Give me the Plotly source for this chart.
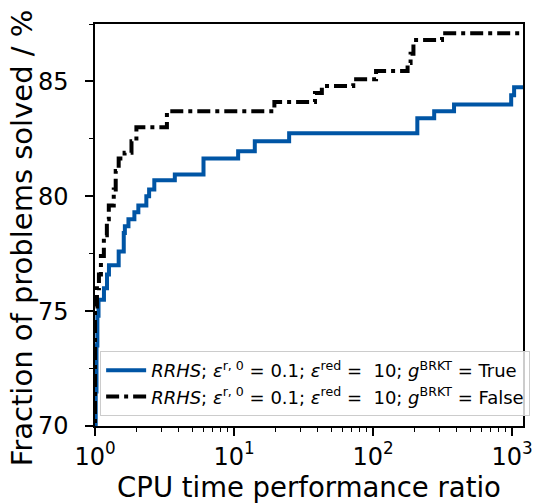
import plotly.graph_objects as go

# Performance profile data (CPU time ratio, % solved), step-post
ratio_true = [1.0, 1.0, 1.012, 1.025, 1.04, 1.06, 1.16, 1.22, 1.26, 1.48, 1.61, 1.64, 1.74, 1.92,
              2.05, 2.34, 2.45, 2.67, 3.75, 6.03, 10.7, 14.1, 24.9, 208, 275, 382, 984, 1033, 1200]
solved_true = [0, 68.5, 71.5, 73.5, 74.8, 75.5, 76.0, 76.6, 77.0, 77.6, 78.4, 78.7, 79.0, 79.3,
               79.6, 80.0, 80.3, 80.7, 80.95, 81.65, 81.96, 82.4, 82.74, 83.4, 83.7, 84.0, 84.4, 84.75, 84.75]

ratio_false = [1.0, 1.0, 1.033, 1.067, 1.103, 1.158, 1.217, 1.257, 1.364, 1.409, 1.48, 1.632, 1.83,
               1.985, 3.29, 19.5, 38.2, 42.8, 72, 105, 177, 186, 195, 313, 1200]
solved_false = [0, 75.2, 76.0, 76.6, 77.4, 78.3, 79.0, 79.6, 80.3, 81.1, 81.65, 81.9, 82.4,
                83.0, 83.7, 84.1, 84.5, 84.8, 85.1, 85.45, 85.8, 86.2, 86.8, 87.1, 87.1]

x_tickvals = [1, 10, 100, 1000]
x_ticktext = ["10<sup>0</sup>", "10<sup>1</sup>", "10<sup>2</sup>", "10<sup>3</sup>"]
y_tickvals = [70, 75, 80, 85]

name_true = "<i>RRHS</i>; <i>ε</i><sup>r, 0</sup> = 0.1; <i>ε</i><sup>red</sup> = &nbsp;10; <i>g</i><sup>BRKT</sup> = True"
name_false = "<i>RRHS</i>; <i>ε</i><sup>r, 0</sup> = 0.1; <i>ε</i><sup>red</sup> = &nbsp;10; <i>g</i><sup>BRKT</sup> = False"

fig = go.Figure()
fig.add_trace(go.Scatter(x=ratio_true, y=solved_true, mode="lines", line_shape="hv",
                         line=dict(color="#0055a5", width=4), name=name_true))
fig.add_trace(go.Scatter(x=ratio_false, y=solved_false, mode="lines", line_shape="hv",
                         line=dict(color="black", width=4, dash="13px,5px,4px,5px"), name=name_false))

font = "DejaVu Sans"
fig.update_layout(
    width=545, height=504,
    margin=dict(l=95, r=16, t=24, b=76),
    plot_bgcolor="white", paper_bgcolor="white",
    font=dict(family=font, color="black"),
    showlegend=True,
    legend=dict(x=0.012, y=0.025, xanchor="left", yanchor="bottom",
                bgcolor="rgba(255,255,255,0.8)", bordercolor="#cccccc", borderwidth=1,
                font=dict(size=18, family=font), tracegroupgap=0, itemwidth=40),
    annotations=[dict(text="Fraction of problems solved / %", textangle=-90,
                      xref="paper", yref="paper", x=-0.172, y=0.468,
                      xanchor="center", yanchor="middle", showarrow=False,
                      font=dict(size=29, family=font))],
)
fig.update_xaxes(type="log", range=[0, 3.078], showgrid=False, zeroline=False,
                 showline=True, linecolor="black", linewidth=1.5, mirror=True,
                 ticks="outside", ticklen=8, tickwidth=1.5, tickcolor="black",
                 tickvals=x_tickvals, ticktext=x_ticktext, tickfont=dict(size=24),
                 minor=dict(ticks="outside", ticklen=4, tickwidth=1, tickcolor="black",
                            tickvals=[m * d for d in [1, 10, 100] for m in range(2, 10)]),
                 title=dict(text="CPU time performance ratio", font=dict(size=27.5), standoff=2))
fig.update_yaxes(range=[70, 87.5], showgrid=False, zeroline=False,
                 showline=True, linecolor="black", linewidth=1.5, mirror=True,
                 ticks="outside", ticklen=8, tickwidth=1.5, tickcolor="black",
                 tickvals=y_tickvals, tickfont=dict(size=24), ticklabelstandoff=12,
                 minor=dict(ticks="outside", ticklen=4, tickwidth=1, tickcolor="black",
                            tickvals=[72.5, 77.5, 82.5, 87.5]))

fig.write_html("out.html")
